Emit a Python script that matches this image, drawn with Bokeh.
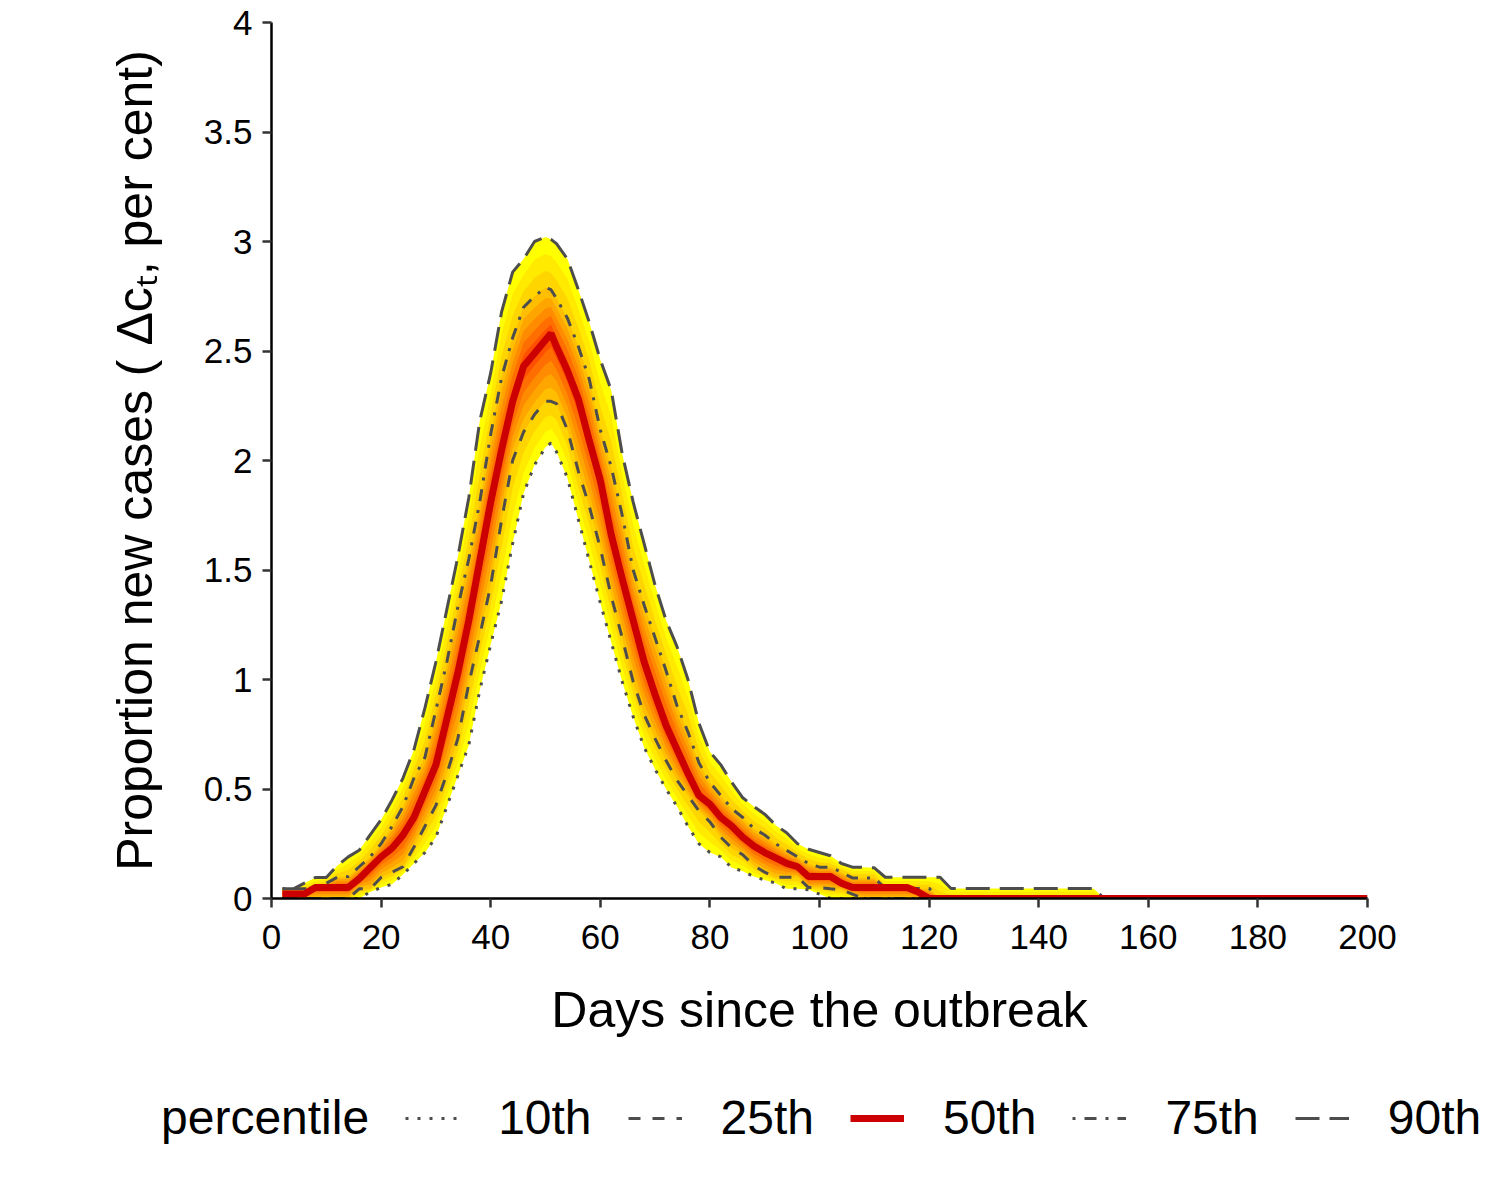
import numpy as np
from bokeh.plotting import figure
from bokeh.models import FixedTicker, Legend, LegendItem, Range1d
from bokeh.embed import file_html
from bokeh.resources import INLINE

# ---------------- data ----------------
days = [2, 4, 6, 8, 10, 12, 14, 16, 18, 20, 22, 24, 26, 28, 30, 32, 34, 36, 38, 40,
        42, 44, 46, 48, 50, 51, 52, 54, 56, 58, 60, 62, 64, 66, 68, 70, 72, 74, 76, 78,
        80, 82, 84, 86, 88, 90, 92, 94, 96, 98, 100, 102, 104, 106, 108, 110, 112, 114,
        116, 118, 120, 122, 124, 126, 128, 130, 140, 150, 152, 200]

p10 = [0, 0, 0, 0, 0, 0, 0, 0, 0.03, 0.05, 0.065, 0.11, 0.16, 0.21, 0.28, 0.42, 0.56, 0.70,
       0.95, 1.16, 1.36, 1.62, 1.85, 1.98, 2.06, 2.08, 2.04, 1.92, 1.73, 1.54, 1.35, 1.17,
       0.99, 0.83, 0.69, 0.59, 0.50, 0.42, 0.33, 0.25, 0.21, 0.19, 0.14, 0.125, 0.10, 0.085,
       0.07, 0.044, 0.044, 0.04, 0.02, 0, 0, 0, 0, 0, 0, 0, 0, 0, 0, 0, 0, 0, 0, 0,
       0, 0, 0, 0]

p25 = [0, 0, 0, 0, 0, 0, 0, 0.044, 0.044, 0.096, 0.12, 0.145, 0.235, 0.33, 0.425, 0.57,
       0.73, 0.98, 1.20, 1.43, 1.73, 2.00, 2.13, 2.21, 2.27, 2.27, 2.26, 2.14, 1.95, 1.79,
       1.60, 1.38, 1.19, 0.99, 0.84, 0.73, 0.63, 0.54, 0.47, 0.40, 0.35, 0.28, 0.23, 0.20,
       0.15, 0.12, 0.097, 0.097, 0.097, 0.05, 0.05, 0.044, 0.04, 0.02, 0, 0, 0, 0, 0, 0,
       0, 0, 0, 0, 0, 0, 0, 0, 0, 0]

p50 = [0.02, 0.02, 0.02, 0.05, 0.05, 0.05, 0.05, 0.09, 0.14, 0.19, 0.23, 0.29, 0.37, 0.49,
       0.61, 0.82, 1.03, 1.27, 1.54, 1.81, 2.05, 2.27, 2.43, 2.49, 2.55, 2.58, 2.52, 2.41,
       2.28, 2.09, 1.91, 1.66, 1.46, 1.27, 1.08, 0.93, 0.79, 0.68, 0.57, 0.47, 0.43, 0.37,
       0.33, 0.28, 0.24, 0.21, 0.185, 0.16, 0.145, 0.10, 0.10, 0.10, 0.07, 0.05, 0.05, 0.05,
       0.05, 0.05, 0.05, 0.03, 0, 0, 0, 0, 0, 0, 0, 0, 0, 0]

p75 = [0.044, 0.044, 0.044, 0.05, 0.07, 0.097, 0.10, 0.145, 0.19, 0.25, 0.33, 0.42, 0.55,
       0.645, 0.86, 1.08, 1.33, 1.55, 1.81, 2.12, 2.38, 2.56, 2.70, 2.75, 2.79, 2.78, 2.74,
       2.65, 2.52, 2.37, 2.14, 1.97, 1.75, 1.50, 1.34, 1.19, 1.04, 0.88, 0.76, 0.62, 0.53,
       0.47, 0.41, 0.37, 0.32, 0.29, 0.25, 0.22, 0.19, 0.16, 0.143, 0.143, 0.12, 0.094,
       0.094, 0.094, 0.046, 0.046, 0.046, 0.046, 0.046, 0, 0, 0, 0, 0, 0, 0, 0, 0]

p90 = [0.044, 0.044, 0.07, 0.096, 0.096, 0.15, 0.19, 0.22, 0.29, 0.36, 0.45, 0.55, 0.68,
       0.87, 1.08, 1.32, 1.56, 1.83, 2.18, 2.40, 2.68, 2.86, 2.92, 3.00, 3.02, 3.01, 2.99,
       2.92, 2.78, 2.63, 2.46, 2.32, 2.03, 1.81, 1.62, 1.43, 1.27, 1.15, 1.00, 0.80, 0.67,
       0.61, 0.53, 0.46, 0.42, 0.385, 0.335, 0.30, 0.25, 0.225, 0.21, 0.195, 0.16, 0.143,
       0.143, 0.14, 0.097, 0.097, 0.097, 0.097, 0.097, 0.097, 0.046, 0.046, 0.046, 0.046,
       0.046, 0.046, 0, 0]

percentile_levels = [10, 25, 50, 75, 90]
legend_labels = ["10th", "25th", "50th", "75th", "90th"]
legend_title = "percentile"

x_ticks = [0, 20, 40, 60, 80, 100, 120, 140, 160, 180, 200]
y_ticks = [0, 0.5, 1, 1.5, 2, 2.5, 3, 3.5, 4]
y_tick_labels = ["0", "0.5", "1", "1.5", "2", "2.5", "3", "3.5", "4"]

x_title = "Days since the outbreak"
y_title = "Proportion new cases ( \u0394c\u209c, per cent)"

# ---------------- styling ----------------
FONT = "Liberation Sans"
fan_colors = ["#FF4F00", "#FF6E00", "#FF8C00", "#FFA500",
              "#FFBF00", "#FFD500", "#FFEA00", "#FFFF00"]   # inner -> outer
line_grey = "#4D4D4D"
median_red = "#CC0000"
styles = {
    "10th": dict(line_color=line_grey, line_width=3, line_dash="3 9"),
    "25th": dict(line_color=line_grey, line_width=3, line_dash="12 12"),
    "50th": dict(line_color=median_red, line_width=7, line_dash="solid"),
    "75th": dict(line_color=line_grey, line_width=3, line_dash="3 9 12 9"),
    "90th": dict(line_color=line_grey, line_width=3, line_dash="24 10"),
}

W = 1484
p = figure(width=W, height=1068,
           x_range=Range1d(0, 200), y_range=Range1d(0, 4),
           output_backend="svg", toolbar_location=None,
           min_border_left=271, min_border_right=W - 1367,
           min_border_top=22, min_border_bottom=170)
p.background_fill_color = "white"
p.border_fill_color = "white"
p.outline_line_color = None
p.xgrid.visible = False
p.ygrid.visible = False

# ---------------- fan (colour gradient between the percentile lines) ----------------
P = np.array([p10, p25, p50, p75, p90], dtype=float)
N = len(days)
edges = list(range(10, 95, 5))   # 10, 15, ..., 90
B = np.array([[np.interp(q, percentile_levels, P[:, i]) for i in range(N)] for q in edges])
nb = len(edges) - 1
for j in range(nb // 2):
    p.varea(x=days, y1=B[j], y2=B[nb - j],
            fill_color=fan_colors[len(fan_colors) - 1 - j], fill_alpha=1.0)

# ---------------- percentile lines ----------------
series = dict(zip(legend_labels, [p10, p25, p50, p75, p90]))
for lab in ["10th", "25th", "75th", "90th", "50th"]:
    p.line(days, series[lab], **styles[lab])

# ---------------- axes ----------------
p.xaxis.ticker = FixedTicker(ticks=x_ticks)
p.yaxis.ticker = FixedTicker(ticks=y_ticks)
p.yaxis.major_label_overrides = {t: s for t, s in zip(y_ticks, y_tick_labels)}
p.xaxis.axis_label = x_title
p.yaxis.axis_label = y_title

for ax in (p.xaxis, p.yaxis):
    ax.axis_line_color = "black"
    ax.axis_line_width = 2.5
    ax.major_tick_line_color = "#333333"
    ax.major_tick_line_width = 2.5
    ax.major_tick_out = 9
    ax.major_tick_in = 0
    ax.minor_tick_line_color = None
    ax.major_label_text_font = FONT
    ax.major_label_text_font_size = "35px"
    ax.major_label_text_color = "black"
    ax.axis_label_text_font = FONT
    ax.axis_label_text_font_size = "50px"
    ax.axis_label_text_font_style = "normal"
    ax.axis_label_text_color = "black"
p.xaxis.major_label_standoff = 17
p.yaxis.major_label_standoff = 10
p.xaxis.axis_label_standoff = 30
p.yaxis.axis_label_standoff = 38

# ---------------- legend (separate strip below the plot) ----------------
leg = figure(width=W, height=116, x_range=Range1d(0, 1), y_range=Range1d(0, 1),
             output_backend="svg", toolbar_location=None,
             x_axis_location=None, y_axis_location=None,
             min_border=0, min_border_left=0, min_border_right=0,
             min_border_top=0, min_border_bottom=0)
leg.outline_line_color = None
leg.xgrid.visible = False
leg.ygrid.visible = False
leg.background_fill_color = "white"
leg.border_fill_color = "white"

# key samples only (kept outside the visible range of this strip)
title_r = leg.line([-2, -1], [-2, -2], line_alpha=0)
items = [LegendItem(label=legend_title, renderers=[title_r])]
for lab in legend_labels:
    r = leg.line([-2, -1], [-2, -2], **styles[lab])
    items.append(LegendItem(label=lab, renderers=[r]))

legend = Legend(items=items, orientation="horizontal", location=(68, 39),
                glyph_width=54, glyph_height=50, label_height=50,
                label_standoff=39, spacing=36, padding=0, margin=0,
                border_line_color=None, background_fill_alpha=0,
                label_text_font=FONT, label_text_font_size="48px",
                label_text_color="black")
leg.add_layout(legend, "center")

open("out.html", "w").write(file_html([p, leg], INLINE))
